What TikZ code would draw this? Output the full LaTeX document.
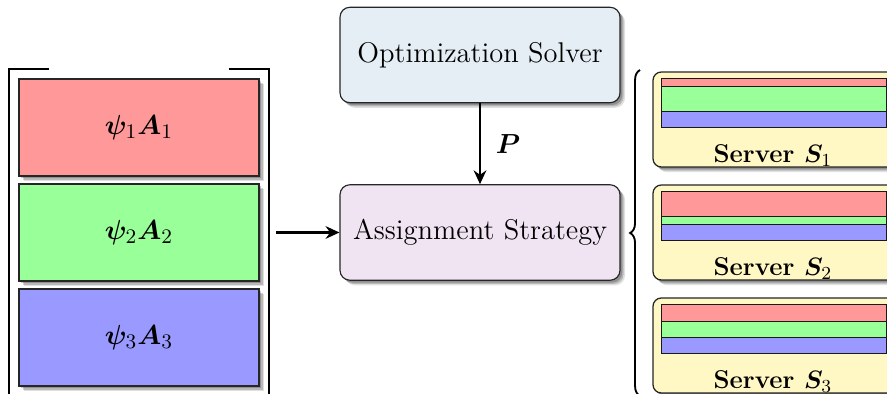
\documentclass[tikz,border=0pt]{standalone}
\usepackage{amsmath,bm}
\usetikzlibrary{shadows,fit,calc,arrows.meta,decorations.pathreplacing}
\definecolor{solverfill}{RGB}{229,238,244}
\definecolor{assignfill}{RGB}{240,228,243}
\definecolor{serverfill}{RGB}{255,247,196}
\definecolor{redpart}{RGB}{255,153,153}
\definecolor{greenpart}{RGB}{153,255,153}
\definecolor{bluepart}{RGB}{153,153,255}
\tikzset{
  % soft shadow built from a few stacked offsets
  shade/.style={
    drop shadow={shadow xshift=2.2pt,shadow yshift=-2.2pt,opacity=0.12,fill=black},
    drop shadow={shadow xshift=1.6pt,shadow yshift=-1.6pt,opacity=0.18,fill=black},
    drop shadow={shadow xshift=1.0pt,shadow yshift=-1.0pt,opacity=0.22,fill=black}},
  bigtext/.style={font=\fontsize{12.4}{15}\selectfont},
  taskbox/.style={draw=black!85,line width=0.45pt,minimum width=104.35pt,minimum height=42.17pt,
    inner sep=0pt,shade,bigtext},
  procbox/.style={draw=black!85,line width=0.5pt,rounded corners=4.3pt,minimum width=121.74pt,
    minimum height=41.5pt,inner sep=0pt,shade,bigtext},
  serverbox/.style={draw=black!85,line width=0.55pt,fill=serverfill,rounded corners=3.6pt,
    minimum width=105.2pt,minimum height=41.3pt,inner sep=0pt,shade},
  bar/.style={draw=black!90,line width=0.45pt},
  flow/.style={line width=1.1pt,-{Stealth[length=6pt,width=5.5pt]}},
  serverlabel/.style={font=\fontsize{11.2}{13}\selectfont\bfseries,inner sep=0pt},
}
\begin{document}
\begin{tikzpicture}[x=0.43478pt,y=-0.43478pt]
\useasboundingbox (0,0) rectangle (887,394);

% stacked task blocks
\node[taskbox,fill=redpart]   (t1) at (139,127.5) {$\bm{\psi}_1\bm{A}_1$};
\node[taskbox,fill=greenpart] (t2) at (139,232.5) {$\bm{\psi}_2\bm{A}_2$};
\node[taskbox,fill=bluepart]  (t3) at (139,337.5) {$\bm{\psi}_3\bm{A}_3$};
\node[fit=(t1)(t3),inner xsep=3.75pt,inner ysep=3.95pt] (stack) {};
\draw[line width=0.9pt] ($(stack.north west)+(40,0)$) -- (stack.north west) -- (stack.south west) -- ($(stack.south west)+(40,0)$);
\draw[line width=0.9pt] ($(stack.north east)+(-40,0)$) -- (stack.north east) -- (stack.south east) -- ($(stack.south east)+(-40,0)$);

% solver and assignment
\node[procbox,fill=solverfill] (solver) at (480,55) {Optimization Solver};
\node[procbox,fill=assignfill] (assign) at (480,232.5) {Assignment Strategy};
\draw[flow] (solver) -- node[right=3pt,bigtext] {$\bm{P}$} (assign);
\draw[flow,shorten <=3.4pt] (stack.east) -- (assign.west);

% servers
\node[serverbox] (s1) at (774,119.5) {};
\node[serverbox] (s2) at (774,232.5) {};
\node[serverbox] (s3) at (774,345.5) {};
\foreach \s/\r in {s1/15,s2/32,s3/24}{
  \fill[redpart]   ($(\s.north west)+(9,7)$)   rectangle ($(\s.north east)+(-9,\r)$);
  \fill[greenpart] ($(\s.north west)+(9,\r)$)  rectangle ($(\s.north east)+(-9,40)$);
  \fill[bluepart]  ($(\s.north west)+(9,40)$)  rectangle ($(\s.north east)+(-9,56)$);
  \draw[bar] ($(\s.north west)+(9,7)$) rectangle ($(\s.north east)+(-9,56)$);
  \draw[bar] ($(\s.north west)+(9,\r)$) -- ($(\s.north east)+(-9,\r)$);
  \draw[bar] ($(\s.north west)+(9,40)$) -- ($(\s.north east)+(-9,40)$);
}
\node[serverlabel] (l1) at ($(s1.south)+(-1,-12)$) {Server $\bm{S}_1$};
\node[serverlabel] (l2) at ($(s2.south)+(-1,-12)$) {Server $\bm{S}_2$};
\node[serverlabel] (l3) at ($(s3.south)+(-1,-12)$) {Server $\bm{S}_3$};

% brace gathering the servers
\coordinate (bt) at (640,70);
\coordinate (bb) at (640,396);
\draw[line width=0.8pt,decorate,decoration={brace,amplitude=4.3pt}] (bb) -- (bt);
\end{tikzpicture}
\end{document}
